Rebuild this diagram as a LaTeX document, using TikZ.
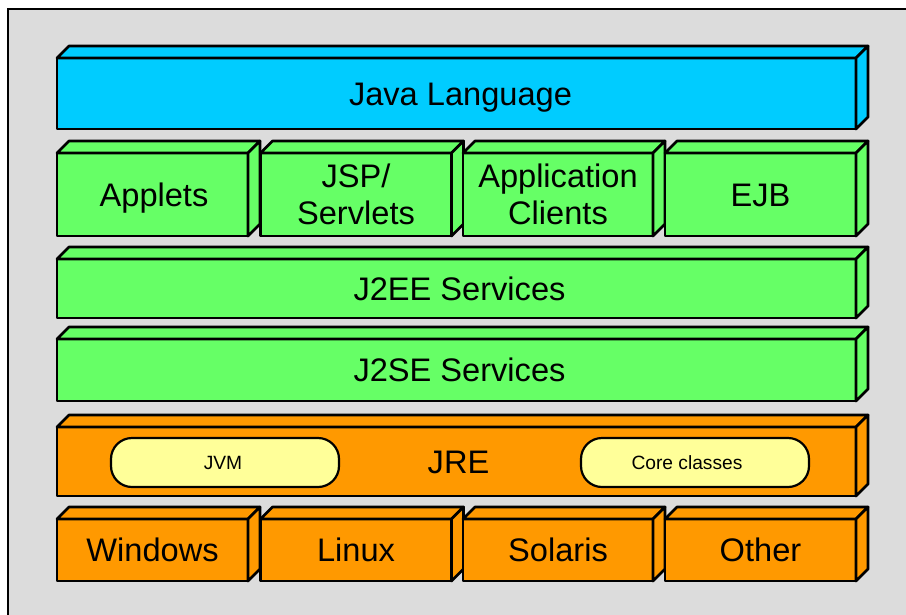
\documentclass[tikz,border=0pt]{standalone}
\usepackage{fontspec}
\setmainfont{Liberation Sans}
\definecolor{bgc}{RGB}{220,220,220}
\definecolor{javablue}{RGB}{0,204,255}
\definecolor{boxgreen}{RGB}{102,255,102}
\definecolor{boxorange}{RGB}{255,153,0}
\definecolor{pillyellow}{RGB}{255,255,153}
\tikzset{
  front/.style={draw, line width=2.7pt, line join=round, inner sep=0pt, outer sep=0pt,
    align=center, font=\fontsize{32.6}{37}\selectfont},
  face/.style={draw, line width=2.7pt, line join=round},
  capc/.style={text height=23.4pt, text depth=0pt},
  pill/.style={draw, line width=2.2pt, fill=pillyellow, rounded corners=21pt, inner sep=0pt,
    minimum width=228pt, minimum height=49pt, font=\fontsize{19.2}{22}\selectfont,
    text height=13.7pt, text depth=0pt},
}
\newcommand\mycuboid[8][capc]{%
  \node[front, #1, fill=#7, minimum width={(#5-#3)*1pt}, minimum height={(#6-#4)*1pt}] (#2) at ({(#3+#5)/2},{(#4+#6)/2}) {#8};
  \draw[face, fill=#7] (#2.north west) -- ++(12,-12) -- ([shift={(12,-12)}]#2.north east) -- (#2.north east) -- cycle;
  \draw[face, fill=#7] (#2.north east) -- ++(12,-12) -- ([shift={(12,-12)}]#2.south east) -- (#2.south east) -- cycle;
}
\begin{document}
\begin{tikzpicture}[x=1pt, y=-1pt]
\useasboundingbox (0,0) rectangle (906,614);
\clip (0,0) rectangle (906,614);
\fill[white] (0,0) rectangle (906,614);
\draw[line width=2.6pt, fill=bgc] (8,9) rectangle (930,640);
% row 1
\mycuboid{java}{57}{58}{856}{129}{javablue}{\hspace*{8pt}Java Language}
% row 2
\mycuboid{applets}{57}{153}{248}{236}{boxgreen}{\hspace*{3pt}Applets}
\mycuboid[]{jsp}{260.5}{153}{451.5}{236}{boxgreen}{JSP/\\Servlets}
\mycuboid[]{appcl}{463}{153}{653}{236}{boxgreen}{Application\\Clients}
\mycuboid{ejb}{665}{153}{856}{236}{boxgreen}{EJB}
% row 3, 4
\mycuboid{j2ee}{57}{259}{856}{318}{boxgreen}{\hspace*{6pt}J2EE Services}
\mycuboid{j2se}{57}{339}{856}{401}{boxgreen}{\hspace*{6pt}J2SE Services}
% row 5
\mycuboid{jre}{57}{427}{856}{496}{boxorange}{\hspace*{4pt}JRE}
\node[pill] (jvm) at (225,462.5) {\hspace*{-4pt}JVM};
\node[pill] (core) at (695,462.5) {\hspace*{-16pt}Core classes};
% row 6
\mycuboid{win}{57}{519}{248}{581}{boxorange}{Windows}
\mycuboid{linux}{260.5}{519}{451.5}{581}{boxorange}{Linux}
\mycuboid{solaris}{463}{519}{653}{581}{boxorange}{Solaris}
\mycuboid{other}{665}{519}{856}{581}{boxorange}{Other}
\end{tikzpicture}
\end{document}
